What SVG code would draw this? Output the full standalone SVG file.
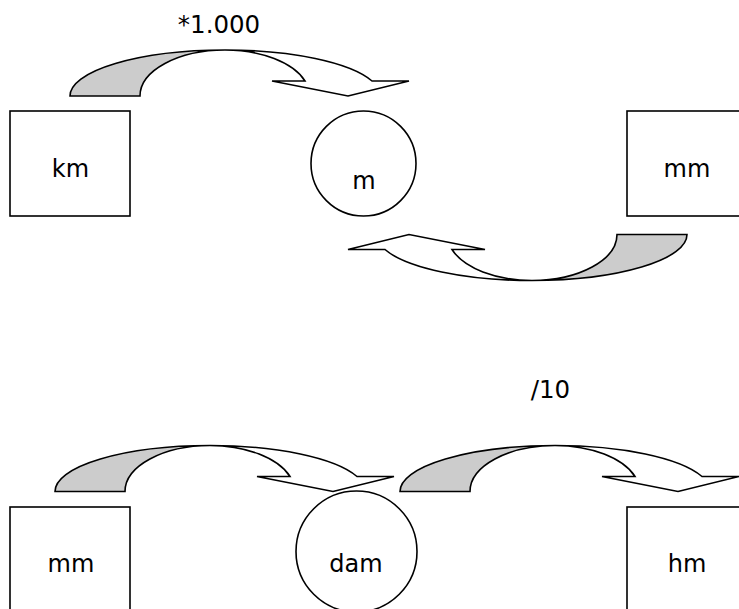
<svg xmlns="http://www.w3.org/2000/svg" width="739" height="609" viewBox="0 0 739 609">
<style>
  .box{fill:#fff;stroke:#000;stroke-width:1.6}
  .tail{fill:#cccccc;stroke:#000;stroke-width:1.6;stroke-linejoin:miter}
  .head{fill:#fff;stroke:#000;stroke-width:1.6;stroke-linejoin:miter}
  .lbl{font-family:"DejaVu Sans",Verdana,sans-serif;font-size:24px;fill:#000;text-anchor:middle}
  .op{font-family:"DejaVu Sans",Verdana,sans-serif;font-size:24.5px;fill:#000;text-anchor:middle}
</style>
<defs>
  <g id="curvedArrow">
    <path class="tail" d="M70,96 A155,46 0 0,1 225,50 A85,46 0 0,0 140,96 Z"/>
    <path class="head" d="M225,50 A155,46 0 0,1 372,81 L409,81 L348,96 L272,81 L305,81 A85,46 0 0,0 225,50 Z"/>
  </g>
</defs>
<g id="connectors">
  <use href="#curvedArrow"/>
  <use href="#curvedArrow" transform="translate(757,330.5) rotate(180)"/>
  <use href="#curvedArrow" transform="translate(-15,395.5)"/>
  <use href="#curvedArrow" transform="translate(330,395.5)"/>
</g>
<g id="label-mult"><text class="op" x="219" y="33">*1.000</text></g>
<g id="label-div"><text class="op" x="550.5" y="398">/10</text></g>
<g id="node-km">
  <rect class="box" x="10" y="111" width="120" height="105"/>
  <text class="lbl" x="70.5" y="177">km</text>
</g>
<g id="node-m">
  <circle class="box" cx="363.5" cy="163.5" r="52.5"/>
  <text class="lbl" x="364" y="189">m</text>
</g>
<g id="node-mm-top">
  <rect class="box" x="627" y="111" width="130" height="105"/>
  <text class="lbl" x="687" y="177">mm</text>
</g>
<g id="node-mm-bottom">
  <rect class="box" x="10" y="507" width="120" height="120"/>
  <text class="lbl" x="71" y="572">mm</text>
</g>
<g id="node-dam">
  <circle class="box" cx="356.5" cy="551.5" r="60.5"/>
  <text class="lbl" x="356" y="572">dam</text>
</g>
<g id="node-hm">
  <rect class="box" x="627" y="507" width="130" height="120"/>
  <text class="lbl" x="687" y="572">hm</text>
</g>
</svg>
